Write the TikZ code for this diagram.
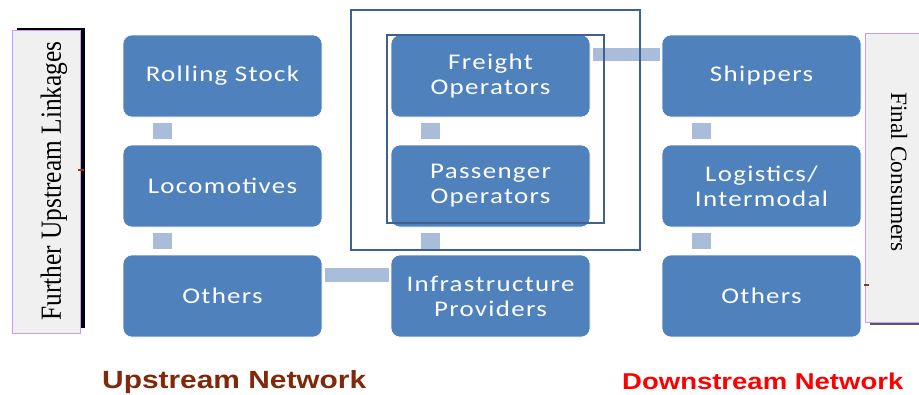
\documentclass[tikz,border=0pt]{standalone}
\usepackage{fontspec}
\setmainfont{Liberation Serif}
\newfontfamily\boxfont[FakeStretch=1.2,LetterSpace=6]{Carlito}
\newfontfamily\labelfont[FakeStretch=1.2]{Liberation Sans}
\definecolor{boxblue}{HTML}{4F81BD}
\definecolor{linkblue}{HTML}{A9BCD9}
\definecolor{frameblue}{HTML}{3E6190}
\definecolor{sidefill}{HTML}{F0F0F0}
\definecolor{sideedge}{HTML}{CC99FF}
\definecolor{upbrown}{RGB}{130,40,10}
\definecolor{tickbrown}{RGB}{150,60,20}
\begin{document}
\begin{tikzpicture}[x=1bp,y=-1bp,
  stepbox/.style={rectangle, rounded corners=9bp, fill=boxblue, draw=white,
    line width=0.6bp, minimum width=199bp, minimum height=82bp, inner sep=0pt,
    text=white, align=center, font=\boxfont\fontsize{22.5}{25}\selectfont},
  vlink/.style={draw=linkblue, line width=19bp, shorten <=6bp, shorten >=6bp},
  hlink/.style={draw=linkblue, line width=14bp, shorten <=3bp, shorten >=2bp},
  frame/.style={draw=frameblue, line width=2bp},
  sidebox/.style={fill=sidefill, draw=sideedge, line width=1bp},
  netlabel/.style={anchor=base west, inner sep=0pt, font=\labelfont\bfseries\fontsize{25}{25}\selectfont}]
\useasboundingbox (0,0) rectangle (919,394);

% side panels with their shadows
\fill[black] (16.5,28) rectangle (85,328);
\draw[sidebox] (12,30) rectangle (80,333);
\node (upl) at (54,181) {\rotatebox{90}{\scalebox{1}[1.15]{\fontsize{25.5}{25.5}\selectfont Further Upstream Linkages}}};
\fill[black!65] (870,37) rectangle (925,325);
\draw[sidebox] (865,33) rectangle (930,322);
\node (fc) at (899,172) {\rotatebox{-90}{\fontsize{23.5}{23.5}\selectfont Final Consumers}};

% boxes: upstream, rail operators, downstream
\node[stepbox] (rs)  at (222.5,76)  {Rolling Stock};
\node[stepbox] (loc) at (222.5,186) {Locomotives};
\node[stepbox] (oth1) at (222.5,296) {Others};
\node[stepbox] (fo)  at (490.5,76)  {Freight\\Operators};
\node[stepbox] (po)  at (490.5,186) {Passenger\\Operators};
\node[stepbox] (ip)  at (490.5,296) {Infrastructure\\Providers};
\node[stepbox] (sh)  at (761.5,76)  {Shippers};
\node[stepbox] (lg)  at (761.5,186) {Logistics/\\Intermodal};
\node[stepbox] (oth2) at (761.5,296) {Others};

% links between boxes
\draw[vlink] ([xshift=39.5bp]rs.south west) -- ([xshift=39.5bp]loc.north west);
\draw[vlink] ([xshift=39.5bp]loc.south west) -- ([xshift=39.5bp]oth1.north west);
\draw[vlink] ([xshift=39.5bp]fo.south west) -- ([xshift=39.5bp]po.north west);
\draw[vlink] ([xshift=39.5bp]po.south west) -- ([xshift=39.5bp]ip.north west);
\draw[vlink] ([xshift=40bp]sh.south west) -- ([xshift=40bp]lg.north west);
\draw[vlink] ([xshift=40bp]lg.south west) -- ([xshift=40bp]oth2.north west);
\draw[hlink] ([yshift=-20bp]oth1.north east) -- ([yshift=-20bp]ip.north west);
\draw[hlink, line width=13bp] ([yshift=-19.5bp]fo.north east) -- ([yshift=-19.5bp]sh.north west);

% frames round the operators
\draw[frame] (351,10) rectangle (640,250);
\draw[frame, line width=2.5bp] (387,35) rectangle (604,223);

% small marks on the side panels
\draw[tickbrown, line width=2bp] (78,170) -- (84,170);
\draw[tickbrown, line width=2bp] (864,285) -- (869,285);

% network labels
\node[netlabel, text=upbrown] (upn) at (102,388) {Upstream Network};
\node[netlabel, text=red, font=\labelfont\bfseries\fontsize{23}{23}\selectfont] (dnn) at (622,389) {Downstream Network};
\end{tikzpicture}
\end{document}
